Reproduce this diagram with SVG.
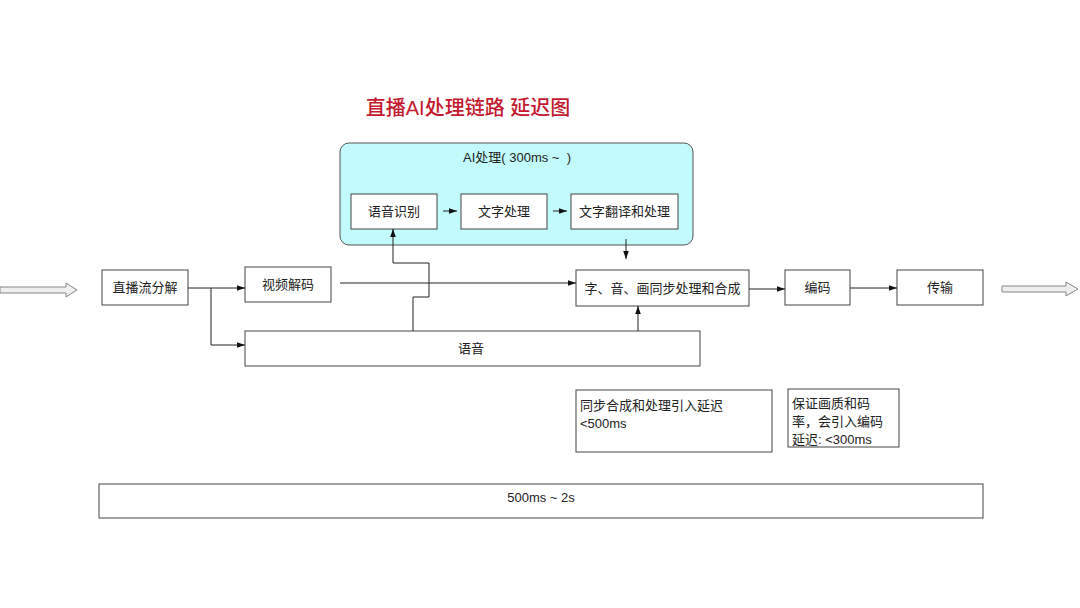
<svg xmlns="http://www.w3.org/2000/svg" width="1080" height="608" viewBox="0 0 1080 608">
<style>
text{font-family:"Liberation Sans","Noto Sans CJK SC",sans-serif;font-size:13px;fill:#222}
.c{text-anchor:middle;dominant-baseline:central}
.box{fill:#fff;stroke:#444;stroke-width:1}
.ln{fill:none;stroke:#222;stroke-width:1}
.hol{fill:#eee;stroke:#888;stroke-width:1}
</style>
<defs>
<marker id="ah" viewBox="0 0 10 10" refX="10" refY="5" markerWidth="8" markerHeight="8" markerUnits="userSpaceOnUse" orient="auto">
<path d="M0,1.5 L10,5 L0,8.5 z" fill="#111"/>
</marker>
</defs>
<rect width="1080" height="608" fill="#fff"/>
<text x="468" y="108" class="c" style="font-size:20px;fill:#c41a30;font-weight:500">直播AI处理链路 延迟图</text>

<g id="ai-group">
<rect x="340" y="143" width="353" height="102" rx="9" fill="#c2fbfb" stroke="#555"/>
<text x="517" y="157" class="c">AI处理( 300ms ~ &#160;)</text>
</g>
<g id="asr"><rect class="box" x="351" y="194" width="86" height="35"/><text x="394" y="211.5" class="c">语音识别</text></g>
<g id="text-proc"><rect class="box" x="461" y="194" width="86" height="35"/><text x="504" y="211.5" class="c">文字处理</text></g>
<g id="translate"><rect class="box" x="571" y="194" width="107" height="35"/><text x="624.5" y="211.5" class="c">文字翻译和处理</text></g>

<g id="input-arrow"><path class="hol" d="M0,287 L66,287 L66,283 L77,290 L66,297 L66,293 L0,293 z"/></g>
<g id="demux"><rect class="box" x="102" y="270" width="86" height="35"/><text x="145" y="287.5" class="c">直播流分解</text></g>
<g id="vdec"><rect class="box" x="245" y="267" width="86" height="35"/><text x="288" y="284.5" class="c">视频解码</text></g>
<g id="audio"><rect class="box" x="245" y="331" width="455" height="35"/><text x="471" y="348.5" class="c">语音</text></g>
<g id="sync"><rect class="box" x="576" y="270" width="173" height="36"/><text x="662.5" y="288" class="c">字、音、画同步处理和合成</text></g>
<g id="enc"><rect class="box" x="785" y="270" width="65" height="35"/><text x="817.5" y="287.5" class="c">编码</text></g>
<g id="trans"><rect class="box" x="897" y="270" width="86" height="35"/><text x="940" y="287.5" class="c">传输</text></g>
<g id="output-arrow"><path class="hol" d="M1002,286 L1066,286 L1066,282 L1078,289 L1066,296 L1066,292 L1002,292 z"/></g>

<g id="note-sync"><rect class="box" x="576" y="390" width="196" height="62"/>
<text x="580" y="405" dominant-baseline="central">同步合成和处理引入延迟</text>
<text x="580" y="423" dominant-baseline="central">&lt;500ms</text></g>
<g id="note-enc"><rect class="box" x="788" y="389" width="111" height="58"/>
<text x="792" y="403" dominant-baseline="central">保证画质和码</text>
<text x="792" y="421" dominant-baseline="central">率，会引入编码</text>
<text x="792" y="439" dominant-baseline="central">延迟: &lt;300ms</text></g>
<g id="total"><rect class="box" x="99" y="484" width="884" height="34"/><text x="541" y="497" class="c">500ms ~ 2s</text></g>

<g id="connectors">
<path class="ln" d="M188,288 L245,288" marker-end="url(#ah)"/>
<path class="ln" d="M211,288 L211,345 L245,345" marker-end="url(#ah)"/>
<path class="ln" d="M340,283 L576,283" marker-end="url(#ah)"/>
<path class="ln" d="M413,331 L413,297 L429,297 L429,263 L393,263 L393,229" marker-end="url(#ah)"/>
<path class="ln" d="M626,239 L626,259" marker-end="url(#ah)"/>
<path class="ln" d="M638,331 L638,306" marker-end="url(#ah)"/>
<path class="ln" d="M749,289 L785,289" marker-end="url(#ah)"/>
<path class="ln" d="M850,288 L897,288" marker-end="url(#ah)"/>
<path class="ln" d="M443,211 L457,211" marker-end="url(#ah)"/>
<path class="ln" d="M553,211 L567,211" marker-end="url(#ah)"/>
</g>
</svg>
